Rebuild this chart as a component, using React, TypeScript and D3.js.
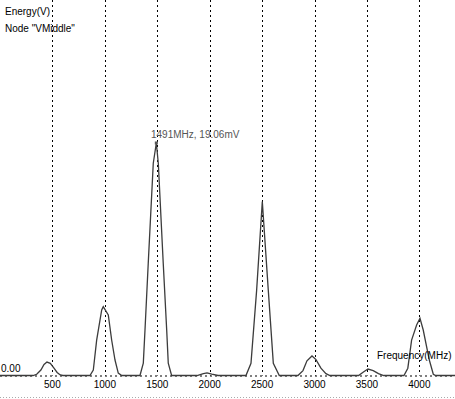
import * as React from "react";
import * as d3 from "d3";

// spectrum: frequency (MHz) / energy (mV)
const freqs = [
    0, 315, 350, 390, 420, 448, 480, 515, 545, 575, 600,
    858, 890, 922, 970, 985, 1033, 1065, 1097, 1128, 1161,
    1335, 1367, 1383, 1414, 1462, 1491, 1510, 1557, 1590, 1605, 1637,
    1880, 1940, 1975, 2020, 2080,
    2346, 2394, 2448, 2502, 2559, 2607, 2664,
    2842, 2890, 2928, 2976, 3014, 3061, 3109, 3147,
    3420, 3470, 3510, 3560, 3610, 3660,
    3853, 3890, 3926, 3974, 4006, 4037, 4095, 4133, 4156, 4343,
];
const energy = [
    0, 0, 0.1, 0.45, 0.9, 1.1, 1.0, 0.6, 0.25, 0.05, 0,
    0, 0.45, 2.9, 5.37, 5.64, 4.96, 2.91, 1.27, 0.2, 0,
    0, 1.02, 3.73, 9.2, 17.4, 19.06, 17.4, 9.2, 3.73, 1.02, 0,
    0, 0.15, 0.22, 0.12, 0,
    0, 1.0, 7.0, 14.25, 7.0, 1.0, 0,
    0, 0.4, 1.2, 1.6, 1.3, 0.6, 0.15, 0,
    0, 0.3, 0.53, 0.4, 0.15, 0,
    0, 0.6, 2.9, 4.14, 4.69, 3.73, 1.27, 0.1, 0, 0,
];
const freqTicks = [500, 1000, 1500, 2000, 2500, 3000, 3500, 4000];
const peakFreq = 1491;
const peakValue = 19.06;

const W = 455;
const H = 399;
const font = "'Liberation Sans', Arial, sans-serif";

export default function App() {
    const x = d3.scaleLinear().domain([0, 4340]).range([0, W]);
    const y = d3.scaleLinear().domain([0, 30.78]).range([375.5, 0]);
    const pts: [number, number][] = freqs.map((f, i) => [f, energy[i]]);
    const line = d3.line<[number, number]>()
        .x(d => x(d[0]))
        .y(d => y(d[1]));
    const y0 = y(0);

    return (
        <svg width={W} height={H} style={{ position: "absolute", left: 0, top: 0, background: "#fff" }}
            fontFamily={font}>
            {freqTicks.map(t => (
                <line key={t} x1={Math.round(x(t)) + 0.5} x2={Math.round(x(t)) + 0.5} y1={0} y2={y0}
                    stroke="#000" strokeDasharray="2,3" />
            ))}
            <line x1={0} x2={W} y1={y0 + 0.5} y2={y0 + 0.5} stroke="#000" strokeDasharray="2,3" />
            <line x1={0} x2={W} y1={397.5} y2={397.5} stroke="#aaa" strokeDasharray="1,2" />
            <path d={line(pts) || ""} fill="none" stroke="#3c3c3c" strokeWidth={1.3} />
            <rect x={x(peakFreq) - 1.5} y={y(peakValue) - 1.5} width={3} height={3} fill="#555" />
            <text x={151} y={138} fontSize={10} fill="#555">{`${peakFreq}MHz, ${peakValue}mV`}</text>
            <text x={5} y={15} fontSize={10} fill="#000">Energy(V)</text>
            <text x={5} y={32} fontSize={10} fill="#000">Node "VMiddle"</text>
            <text x={1} y={372} fontSize={10} fill="#000">0.00</text>
            <text x={377} y={359} fontSize={10} fill="#000">Frequency(MHz)</text>
            {freqTicks.map(t => (
                <text key={t} x={x(t)} y={388} fontSize={10} textAnchor="middle" fill="#000">{t}</text>
            ))}
        </svg>
    );
}
